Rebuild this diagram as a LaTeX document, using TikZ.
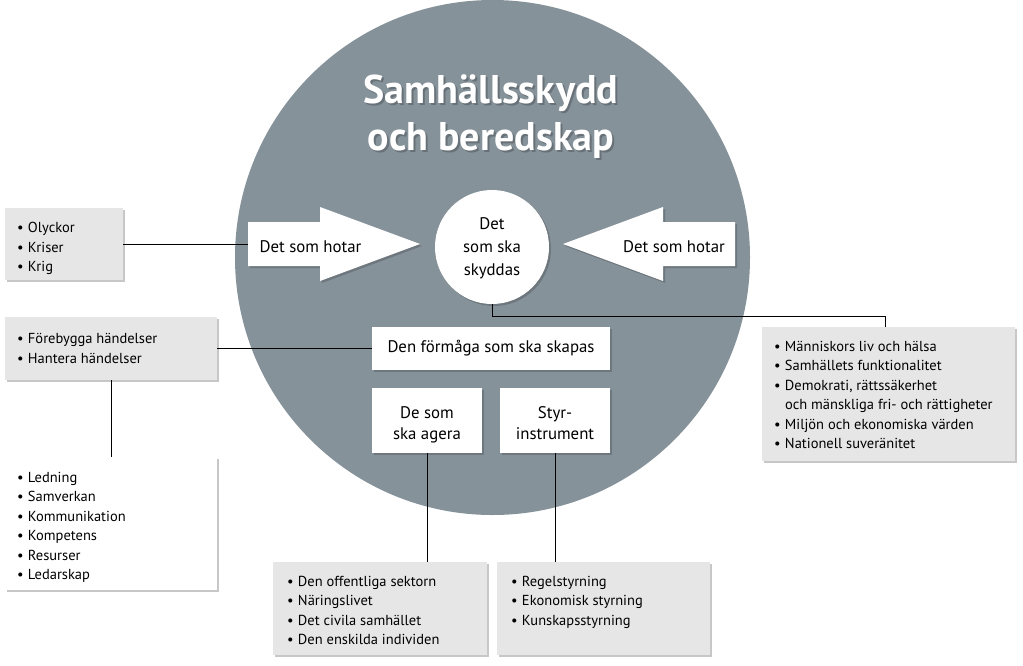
\documentclass[tikz,border=0pt]{standalone}
\usepackage{fontspec}
\setmainfont{PT Sans}
\usetikzlibrary{shadows,calc}
\definecolor{disc}{RGB}{134,146,153}
\definecolor{boxgray}{RGB}{231,230,230}
\newcommand{\bl}{\makebox[11pt][l]{•}}
\tikzset{
  every node/.style={inner sep=0pt, outer sep=0pt},
  shd/.style={drop shadow={shadow xshift=2pt, shadow yshift=-2pt, opacity=0.22, fill=black}},
  gbox/.style={fill=boxgray, shd},
  wbox/.style={fill=white, shd},
  ibox/.style={fill=white, drop shadow={shadow xshift=2pt, shadow yshift=-2pt, opacity=0.18, fill=black}},
  listtxt/.style={font=\fontsize{14.5}{19.5}\selectfont, align=left, anchor=base west},
  ctxt/.style={font=\fontsize{16.8}{21}\selectfont, align=center},
  conn/.style={draw=black, line width=0.9pt},
}
\begin{document}
\begin{tikzpicture}[x=1pt,y=-1pt]
\useasboundingbox (0,0) rectangle (1023,665);
% big disc
\fill[disc] (492.5,257.5) circle (257.5);
% title
\node[font=\fontsize{40}{47}\selectfont\bfseries, text=black, opacity=0.22, align=center, anchor=base] at (493,152) {Samhällsskydd\\och beredskap};
\node[font=\fontsize{40}{47}\selectfont\bfseries, text=white, align=center, anchor=base] (title) at (491,150) {Samhällsskydd\\och beredskap};
% arrows
\path[ibox] (248,222) -- (320,222) -- (320,207) -- (420,244) -- (320,281) -- (320,266) -- (248,266) -- cycle;
\path[ibox] (735,222) -- (663,222) -- (663,207) -- (563,244) -- (663,281) -- (663,266) -- (735,266) -- cycle;
\coordinate (aL) at (248,244);
\node[ctxt, anchor=base] (hotL) at (310.5,252.7) {Det som hotar};
\node[ctxt, anchor=base] (hotR) at (674,252.7) {Det som hotar};
% protected circle
\node[circle, fill=white, minimum size=114pt, ibox] (prot) at (492,247) {};
\node[ctxt, font=\fontsize{16.8}{23}\selectfont, anchor=base] at (492,275) {Det\\som ska\\skyddas};
% inner boxes
\node[ibox, minimum width=238pt, minimum height=43pt] (form) at (491,348.5) {};
\node[ctxt] at (form) {Den förmåga som ska skapas};
\node[ibox, minimum width=110pt, minimum height=65pt] (agera) at (427,420.5) {};
\node[ctxt, anchor=base] at (427,439) {De som\\ska agera};
\node[ibox, minimum width=110pt, minimum height=65pt] (styr) at (555,420.5) {};
\node[ctxt, anchor=base] at (555,439) {Styr-\\instrument};
% outer boxes
\node[gbox, minimum width=118pt, minimum height=72pt] (bOly) at (64,244) {};
\node[listtxt] at (17,271.5) {\bl Olyckor\\\bl Kriser\\\bl Krig};
\node[gbox, minimum width=212pt, minimum height=63pt] (bFor) at (111,348.5) {};
\node[listtxt] at (17,363) {\bl Förebygga händelser\\\bl Hantera händelser};
\node[wbox, minimum width=212pt, minimum height=133pt] (bLed) at (111,523.5) {};
\node[listtxt] at (17,579.5) {\bl Ledning\\\bl Samverkan\\\bl Kommunikation\\\bl Kompetens\\\bl Resurser\\\bl Ledarskap};
\node[gbox, minimum width=253pt, minimum height=134pt] (bVal) at (888.5,394) {};
\node[listtxt] at (774,448.5) {\bl Människors liv och hälsa\\\bl Samhällets funktionalitet\\\bl Demokrati, rättssäkerhet\\\hspace*{11pt}och mänskliga fri- och rättigheter\\\bl Miljön och ekonomiska värden\\\bl Nationell suveränitet};
\node[gbox, minimum width=214pt, minimum height=93pt] (bAct) at (380,608.5) {};
\node[listtxt] at (287,644.5) {\bl Den offentliga sektorn\\\bl Näringslivet\\\bl Det civila samhället\\\bl Den enskilda individen};
\node[gbox, minimum width=213pt, minimum height=93pt] (bIns) at (603.5,608.5) {};
\node[listtxt] at (511,625) {\bl Regelstyrning\\\bl Ekonomisk styrning\\\bl Kunskapsstyrning};
% connectors
\draw[conn] (bOly.east) -- (aL);
\draw[conn] (bFor.east) -- (form.west);
\draw[conn] (bFor.south) -- (bLed.north);
\draw[conn] (agera.south) -- (agera.south |- bAct.north);
\draw[conn] (styr.south) -- (styr.south |- bIns.north);
\coordinate (kink) at (885,316);
\draw[conn] (prot.south) |- (kink) -- (kink |- bVal.north);
\end{tikzpicture}
\end{document}
